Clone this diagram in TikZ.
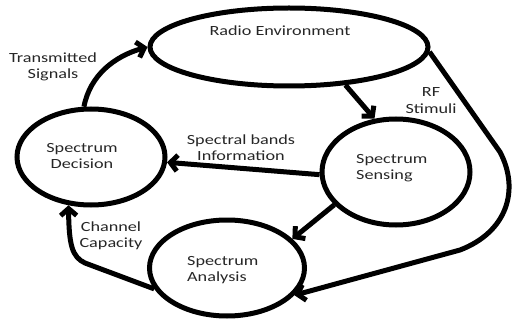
\documentclass[tikz,border=0pt]{standalone}
\usepackage{fontspec}
\setmainfont{Carlito}[FakeStretch=1.3]
\usetikzlibrary{arrows.meta,shapes.geometric}
\begin{document}
\begin{tikzpicture}[x=1pt,y=-1pt,
  bub/.style={ellipse,draw,line width=5pt,inner sep=0pt},
  lbl/.style={font=\fontsize{14}{16}\selectfont,text=black!85,align=center,inner sep=0pt},
  arr/.style={-{Straight Barb[length=7pt,width=16pt]},line width=5pt}]
\useasboundingbox (0,0) rectangle (514,326);
% bubbles
\node[bub,minimum width=278pt,minimum height=78pt] (re) at (289,47) {};
\node[bub,minimum width=148pt,minimum height=96pt] (dec) at (91,157) {};
\node[bub,minimum width=148pt,minimum height=106pt] (sen) at (396,172) {};
\node[bub,minimum width=155pt,minimum height=96pt] (ana) at (227,268) {};
% texts in bubbles
\node[lbl] (ret) at (280,31) {Radio Environment};
\node[lbl] (dect) at (82,156) {Spectrum\\Decision};
\node[lbl,align=left,anchor=west] (sent) at (356,168) {Spectrum\\Sensing};
\node[lbl,align=left,anchor=west] (anat) at (187,270) {Spectrum\\Analysis};
% connector labels
\node[lbl] (tl) at (53,67) {Transmitted\\Signals};
\node[lbl] (sl) at (241,148) {Spectral bands\\Information};
\node[lbl,font=\fontsize{14}{17}\selectfont] (rl) at (431,101) {RF\\Stimuli};
\node[lbl] (cl) at (111,236) {Channel\\Capacity};
% connectors
\draw[arr] (dec.98) .. controls (90,75) and (115,56) .. (re.180);
\draw[arr] (re.-34) -- (sen.112);
\draw[arr] (re.-2) -- (500,152) .. controls (520,190) and (507,232) .. (460,250) -- (ana.-22);
\draw[arr] (sen.182) -- (dec.-4);
\draw[arr] (sen.208) -- (ana.24);
\draw[arr] (ana.196) -- (85,263) .. controls (72,257) and (69,245) .. (dec.-115);
\end{tikzpicture}
\end{document}
